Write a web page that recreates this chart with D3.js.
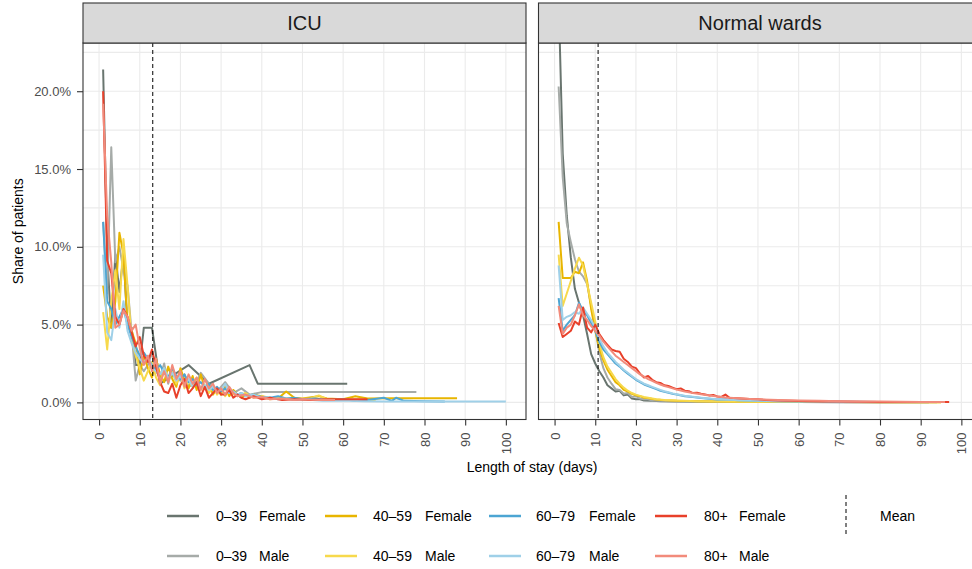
<!DOCTYPE html>
<html>
<head>
<meta charset="utf-8">
<script src="https://cdn.jsdelivr.net/npm/d3@7"></script>
<style>
  body { margin: 0; background: #fff; }
  text { font-family: "Liberation Sans", Arial, sans-serif; }
</style>
</head>
<body>
<div id="chart"></div>
<script>
// share of patients (%) by length of stay (days), [day, pct]
const icuF0039 = [[1,21.4],[2,9.5],[3,4.8],[4,9.5],[5,7.1],[6,9.5],[7,4.8],[8,4.8],[9,2.4],[10,2.4],[11,4.8],[12,4.8],[13,4.8],[15,1.2],[22,2.4],[27,1.2],[37,2.4],[39,1.2],[61,1.2]];
const icuM0039 = [[1,11.6],[2,7.0],[3,16.4],[4,9.0],[5,10.0],[6,8.5],[7,7.5],[8,4.5],[9,1.4],[10,2.4],[11,2.0],[12,2.4],[13,3.2],[14,2.0],[15,1.6],[16,2.5],[17,1.2],[18,2.2],[19,1.5],[20,1.4],[21,1.8],[22,1.0],[24,1.3],[25,1.9],[27,1.2],[29,0.7],[31,1.3],[33,0.6],[35,0.9],[37,0.5],[40,0.66],[78,0.66]];
const icuF4059 = [[1,7.5],[2,5.5],[3,4.8],[4,6.5],[5,10.9],[6,9.5],[7,5.0],[8,4.6],[9,3.8],[10,1.8],[11,3.0],[12,2.2],[13,1.6],[14,2.8],[15,1.8],[16,1.3],[17,2.3],[18,1.5],[19,1.0],[20,2.2],[21,1.4],[22,0.9],[23,1.7],[24,0.8],[25,1.8],[26,0.9],[27,1.2],[28,0.5],[29,0.9],[30,0.5],[31,1.0],[32,0.4],[33,0.8],[34,0.5],[35,0.3],[36,0.5],[37,0.3],[38,0.5],[40,0.4],[42,0.3],[44,0.25],[46,0.7],[48,0.3],[50,0.25],[54,0.4],[56,0.25],[60,0.2],[63,0.4],[66,0.25],[72,0.26],[80,0.26],[88,0.26]];
const icuM4059 = [[1,5.8],[2,3.4],[3,6.5],[4,8.5],[5,6.0],[6,10.5],[7,7.5],[8,4.0],[9,3.0],[10,2.2],[11,1.4],[12,2.0],[13,2.6],[14,1.6],[15,1.1],[16,2.2],[17,1.5],[18,2.0],[19,1.2],[20,1.8],[21,0.9],[22,1.4],[23,1.0],[24,1.6],[25,0.8],[26,1.1],[27,0.6],[28,1.0],[29,0.5],[30,0.8],[31,0.4],[32,0.7],[34,0.4],[36,0.6],[38,0.3],[40,0.4],[42,0.2],[45,0.3],[48,0.2],[52,0.25],[54,0.45],[56,0.2],[60,0.15],[64,0.2],[68,0.1]];
const icuF6079 = [[1,11.6],[2,6.5],[3,6.0],[4,5.0],[5,5.5],[6,6.0],[7,5.0],[8,4.2],[9,3.6],[10,3.0],[11,3.2],[12,2.8],[13,2.4],[14,2.1],[15,2.4],[16,1.9],[17,1.6],[18,2.2],[19,1.7],[20,1.5],[21,1.8],[22,1.3],[23,1.5],[24,1.1],[25,1.3],[26,1.0],[27,1.2],[28,0.8],[29,1.0],[30,0.7],[31,0.9],[32,0.6],[33,0.7],[34,0.5],[35,0.6],[36,0.4],[38,0.5],[40,0.35],[42,0.3],[44,0.4],[46,0.25],[48,0.3],[50,0.2],[53,0.25],[56,0.15],[60,0.2],[63,0.1],[66,0.15],[70,0.3],[72,0.1],[73,0.3],[75,0.1],[80,0.08],[85,0.06]];
const icuM6079 = [[1,9.5],[2,4.5],[3,4.0],[4,6.0],[5,4.8],[6,6.5],[7,4.6],[8,3.8],[9,3.2],[10,2.8],[11,2.5],[12,3.0],[13,2.2],[14,2.0],[15,1.8],[16,2.2],[17,1.5],[18,1.9],[19,1.4],[20,1.7],[21,1.2],[22,1.5],[23,1.0],[24,1.3],[25,0.9],[26,1.1],[27,0.8],[28,1.0],[29,0.7],[30,0.8],[31,1.2],[32,0.6],[33,0.7],[34,0.5],[35,0.6],[36,0.4],[38,0.5],[40,0.3],[42,0.35],[44,0.2],[46,0.25],[48,0.15],[50,0.2],[55,0.1],[60,0.12],[65,0.08],[70,0.05],[80,0.05],[90,0.05],[100,0.05]];
const icuF80 = [[1,20.0],[2,9.1],[3,8.3],[4,5.5],[5,5.0],[6,6.0],[7,5.5],[8,4.5],[9,3.6],[10,4.2],[11,3.0],[12,2.6],[13,3.4],[14,2.3],[15,1.3],[16,0.7],[17,0.6],[18,1.2],[19,0.3],[20,1.1],[21,1.5],[22,0.6],[23,0.9],[24,1.3],[25,0.4],[26,1.0],[27,0.3],[28,0.6],[29,0.9],[30,0.5],[31,0.5],[32,0.8],[33,0.3],[34,0.5],[35,0.3],[36,0.2],[38,0.4],[40,0.2],[42,0.3],[45,0.15],[48,0.2],[52,0.15],[56,0.2],[60,0.2],[66,0.2]];
const icuM80 = [[1,19.2],[2,12.0],[3,9.0],[4,4.8],[5,5.0],[6,5.9],[7,5.5],[8,4.6],[9,5.0],[10,3.5],[11,2.4],[12,3.0],[13,2.0],[14,2.8],[15,1.2],[16,2.0],[17,1.3],[18,2.4],[19,1.5],[20,2.0],[21,1.0],[22,1.8],[23,1.2],[24,1.6],[25,0.8],[26,1.5],[27,0.9],[28,1.2],[29,0.6],[30,0.9],[31,0.5],[32,1.0],[33,0.6],[34,0.4],[36,0.5],[38,0.3],[40,0.35],[42,0.2],[45,0.25],[48,0.15],[50,0.2],[54,0.15],[58,0.15]];

const nwF0039 = [[1,26],[2,16],[3,12],[4,9.3],[5,7.3],[6,6.4],[7,5.6],[8,4.4],[9,3.1],[10,2.5],[11,2.0],[12,1.6],[13,1.1],[14,0.9],[15,0.7],[16,0.75],[17,0.45],[18,0.5],[19,0.25],[20,0.2],[21,0.2],[22,0.12],[24,0.1],[26,0.08],[30,0.05],[35,0.04],[40,0.03],[50,0.02],[60,0.02],[70,0.01],[80,0.01],[92,0.01]];
const nwM0039 = [[1,20.3],[2,14.5],[3,11.5],[4,10.3],[5,9.2],[6,8.4],[7,8.1],[8,7.6],[9,6.2],[10,4.7],[11,3.2],[12,2.2],[13,1.6],[14,1.2],[15,0.85],[16,0.8],[17,0.55],[18,0.6],[19,0.35],[20,0.4],[21,0.25],[22,0.2],[23,0.2],[24,0.12],[26,0.1],[30,0.06],[35,0.05],[40,0.04],[50,0.03],[60,0.02],[70,0.02],[80,0.01],[94,0.01]];
const nwF4059 = [[1,11.6],[2,8.0],[3,8.0],[4,8.0],[5,8.4],[6,8.3],[7,9.0],[8,7.8],[9,6.0],[10,4.6],[11,3.5],[12,2.7],[13,2.1],[14,1.7],[15,1.3],[16,1.1],[17,0.8],[18,0.7],[19,0.55],[20,0.45],[21,0.4],[22,0.3],[23,0.28],[24,0.22],[25,0.18],[27,0.14],[30,0.1],[35,0.07],[40,0.05],[50,0.03],[60,0.02],[70,0.02],[80,0.01],[90,0.01],[95,0.01]];
const nwM4059 = [[1,9.5],[2,6.2],[3,7.0],[4,7.8],[5,8.6],[6,9.3],[7,8.8],[8,7.6],[9,6.4],[10,5.2],[11,3.8],[12,2.9],[13,2.3],[14,1.9],[15,1.5],[16,1.2],[17,0.95],[18,0.75],[19,0.6],[20,0.5],[21,0.42],[22,0.35],[23,0.3],[24,0.25],[25,0.2],[27,0.16],[30,0.12],[35,0.08],[40,0.06],[50,0.04],[60,0.03],[70,0.02],[80,0.02],[90,0.01],[95,0.01]];
const nwF6079 = [[1,6.7],[2,4.6],[3,5.0],[4,5.3],[5,5.6],[6,6.4],[7,5.9],[8,5.6],[9,5.1],[10,4.6],[11,3.9],[12,3.4],[13,3.1],[14,2.8],[15,2.5],[16,2.3],[17,2.05],[18,1.85],[19,1.65],[20,1.45],[21,1.3],[22,1.15],[23,1.05],[24,0.95],[25,0.85],[26,0.75],[27,0.68],[28,0.62],[29,0.55],[30,0.5],[32,0.4],[34,0.34],[36,0.28],[38,0.24],[40,0.18],[42,0.2],[45,0.14],[48,0.12],[50,0.1],[55,0.08],[60,0.06],[65,0.05],[70,0.04],[80,0.03],[90,0.02],[96,0.02]];
const nwM6079 = [[1,8.8],[2,5.3],[3,5.5],[4,5.6],[5,5.8],[6,5.7],[7,6.1],[8,5.7],[9,5.3],[10,4.8],[11,4.1],[12,3.6],[13,3.2],[14,2.9],[15,2.6],[16,2.35],[17,2.1],[18,1.9],[19,1.7],[20,1.5],[21,1.35],[22,1.2],[23,1.1],[24,1.0],[25,0.9],[26,0.8],[27,0.72],[28,0.65],[29,0.58],[30,0.52],[32,0.42],[34,0.36],[36,0.3],[38,0.25],[40,0.2],[43,0.17],[46,0.14],[50,0.11],[55,0.08],[60,0.07],[65,0.05],[70,0.04],[80,0.03],[90,0.02],[96,0.02]];
const nwF80 = [[1,5.1],[2,4.2],[3,4.4],[4,4.6],[5,5.2],[6,5.0],[7,6.1],[8,4.8],[9,4.5],[10,5.0],[11,4.4],[12,4.0],[13,3.7],[14,3.4],[15,3.3],[16,3.25],[17,2.8],[18,2.6],[19,2.3],[20,2.2],[21,1.85],[22,1.6],[23,1.7],[24,1.45],[25,1.3],[26,1.25],[27,1.1],[28,1.05],[29,0.95],[30,0.85],[31,0.9],[32,0.75],[33,0.72],[34,0.6],[35,0.62],[36,0.55],[37,0.5],[38,0.45],[39,0.48],[40,0.38],[41,0.35],[42,0.5],[43,0.3],[44,0.28],[46,0.25],[48,0.22],[50,0.2],[52,0.15],[55,0.12],[58,0.1],[62,0.08],[66,0.06],[70,0.05],[75,0.04],[80,0.03],[85,0.03],[90,0.02],[97,0.02]];
const nwM80 = [[1,6.2],[2,4.4],[3,4.8],[4,5.0],[5,5.6],[6,6.3],[7,5.6],[8,5.3],[9,4.9],[10,4.6],[11,4.3],[12,3.9],[13,3.6],[14,3.3],[15,3.0],[16,2.8],[17,2.6],[18,2.4],[19,2.2],[20,2.0],[21,1.8],[22,1.65],[23,1.5],[24,1.38],[25,1.25],[26,1.15],[27,1.05],[28,0.98],[29,0.9],[30,0.82],[32,0.7],[34,0.6],[36,0.52],[38,0.45],[40,0.38],[42,0.32],[44,0.28],[46,0.25],[48,0.22],[50,0.2],[55,0.15],[60,0.12],[65,0.1],[70,0.08],[75,0.06],[80,0.05],[85,0.04],[90,0.03],[96,0.03]];

const facets = ["ICU", "Normal wards"];
const meanStay = [13.2, 10.7];
const ageGroups = ["0–39", "40–59", "60–79", "80+"];
const sexes = ["Female", "Male"];
const xTicks = [0, 10, 20, 30, 40, 50, 60, 70, 80, 90, 100];
const yTicks = [0, 5, 10, 15, 20];
const yMinor = [2.5, 7.5, 12.5, 17.5, 22.5];

const colors = {
  "0–39 Female": "#69756f", "0–39 Male": "#a6aba8",
  "40–59 Female": "#e8b500", "40–59 Male": "#f7d94c",
  "60–79 Female": "#4ca5d3", "60–79 Male": "#9fd0e8",
  "80+ Female": "#e8402a", "80+ Male": "#f28b7b"
};

const facetData = [
  [icuF0039, icuM0039, icuF4059, icuM4059, icuF6079, icuM6079, icuF80, icuM80],
  [nwF0039, nwM0039, nwF4059, nwM4059, nwF6079, nwM6079, nwF80, nwM80]
];
// drawing order: age then sex (same as legend, column-wise)
const seriesKeys = ageGroups.flatMap(a => sexes.map(s => `${a} ${s}`));

const width = 972, height = 569;
const panelW = 443, panelTop = 43, panelBottom = 419.5;
const panelLeft = [83, 538.5];

const svg = d3.select("#chart").append("svg")
  .attr("width", width).attr("height", height)
  .attr("viewBox", [0, 0, width, height]);

const y = d3.scaleLinear().domain([-1.1, 23.1]).range([panelBottom, panelTop]);
const line = d3.line();

facets.forEach((name, fi) => {
  const x0 = panelLeft[fi];
  const x = d3.scaleLinear().domain([-3.95, 104.95]).range([x0, x0 + panelW]);
  const g = svg.append("g");

  g.append("clipPath").attr("id", `clip${fi}`)
    .append("rect").attr("x", x0).attr("y", panelTop).attr("width", panelW).attr("height", panelBottom - panelTop);

  // grid
  g.append("g").selectAll("line").data(yMinor.concat(yTicks)).join("line")
    .attr("x1", x0).attr("x2", x0 + panelW)
    .attr("y1", d => y(d)).attr("y2", d => y(d))
    .attr("stroke", "#ebebeb").attr("stroke-width", 1.1);
  g.append("g").selectAll("line").data(xTicks).join("line")
    .attr("x1", d => x(d)).attr("x2", d => x(d))
    .attr("y1", panelTop).attr("y2", panelBottom)
    .attr("stroke", "#ebebeb").attr("stroke-width", 1.1);

  // series
  const lines = g.append("g").attr("clip-path", `url(#clip${fi})`);
  facetData[fi].forEach((pts, si) => {
    lines.append("path")
      .attr("d", line(pts.map(p => [x(p[0]), y(p[1])])))
      .attr("fill", "none")
      .attr("stroke", colors[seriesKeys[si]])
      .attr("stroke-width", 2)
      .attr("stroke-linejoin", "round");
  });

  // mean
  lines.append("line")
    .attr("x1", x(meanStay[fi])).attr("x2", x(meanStay[fi]))
    .attr("y1", panelTop).attr("y2", panelBottom)
    .attr("stroke", "#000").attr("stroke-width", 1).attr("stroke-dasharray", "4,3");

  // panel border
  g.append("rect").attr("x", x0).attr("y", panelTop).attr("width", panelW).attr("height", panelBottom - panelTop)
    .attr("fill", "none").attr("stroke", "#333").attr("stroke-width", 1.1);

  // strip
  g.append("rect").attr("x", x0).attr("y", 3).attr("width", panelW).attr("height", panelTop - 3)
    .attr("fill", "#d9d9d9").attr("stroke", "#333").attr("stroke-width", 1.1);
  g.append("text").attr("x", x0 + panelW / 2).attr("y", 23).attr("dy", "0.35em")
    .attr("text-anchor", "middle").attr("font-size", 20).attr("fill", "#1a1a1a").text(name);

  // x axis
  const xa = g.append("g").attr("transform", `translate(0,${panelBottom})`)
    .call(d3.axisBottom(x).tickValues(xTicks).tickSize(6).tickPadding(0).tickFormat(d3.format("d")));
  xa.select(".domain").remove();
  xa.selectAll(".tick line").attr("stroke", "#333").attr("stroke-width", 1.1);
  xa.selectAll(".tick text")
    .attr("transform", "rotate(-90)")
    .attr("x", -13).attr("y", 0).attr("dy", "0.35em")
    .attr("text-anchor", "end")
    .attr("font-size", 13).attr("fill", "#4d4d4d")
    .attr("font-family", "Liberation Sans, Arial, sans-serif");

  if (fi === 0) {
    const ya = g.append("g").attr("transform", `translate(${x0},0)`)
      .call(d3.axisLeft(y).tickValues(yTicks).tickSize(6).tickPadding(6).tickFormat(d => d3.format(".1f")(d) + "%"));
    ya.select(".domain").remove();
    ya.selectAll(".tick line").attr("stroke", "#333").attr("stroke-width", 1.1);
    ya.selectAll(".tick text").attr("font-size", 13).attr("fill", "#4d4d4d")
      .attr("font-family", "Liberation Sans, Arial, sans-serif");
  }
});

// axis titles
svg.append("text").attr("x", 532).attr("y", 472).attr("text-anchor", "middle")
  .attr("font-size", 14).attr("fill", "#000").text("Length of stay (days)");
svg.append("text").attr("transform", `translate(23,${(panelTop + panelBottom) / 2}) rotate(-90)`)
  .attr("text-anchor", "middle").attr("font-size", 14).attr("fill", "#000").text("Share of patients");

// legend
const legKeyX = [167, 325, 489, 655];
const legAgeX = [216, 373, 536, 704];
const legSexX = [259, 425, 589, 739];
const legRowY = [516, 556];
const leg = svg.append("g");
ageGroups.forEach((a, ai) => {
  sexes.forEach((s, si) => {
    const yy = legRowY[si];
    leg.append("line").attr("x1", legKeyX[ai]).attr("x2", legKeyX[ai] + 32)
      .attr("y1", yy).attr("y2", yy)
      .attr("stroke", colors[`${a} ${s}`]).attr("stroke-width", 2.5);
    leg.append("text").attr("x", legAgeX[ai]).attr("y", yy).attr("dy", "0.35em")
      .attr("font-size", 14).attr("fill", "#000").text(a);
    leg.append("text").attr("x", legSexX[ai]).attr("y", yy).attr("dy", "0.35em")
      .attr("font-size", 14).attr("fill", "#000").text(s);
  });
});
leg.append("line").attr("x1", 846).attr("x2", 846).attr("y1", 495).attr("y2", 537)
  .attr("stroke", "#000").attr("stroke-width", 1).attr("stroke-dasharray", "4,3");
leg.append("text").attr("x", 880).attr("y", legRowY[0]).attr("dy", "0.35em")
  .attr("font-size", 14).attr("fill", "#000").text("Mean");
</script>
</body>
</html>
